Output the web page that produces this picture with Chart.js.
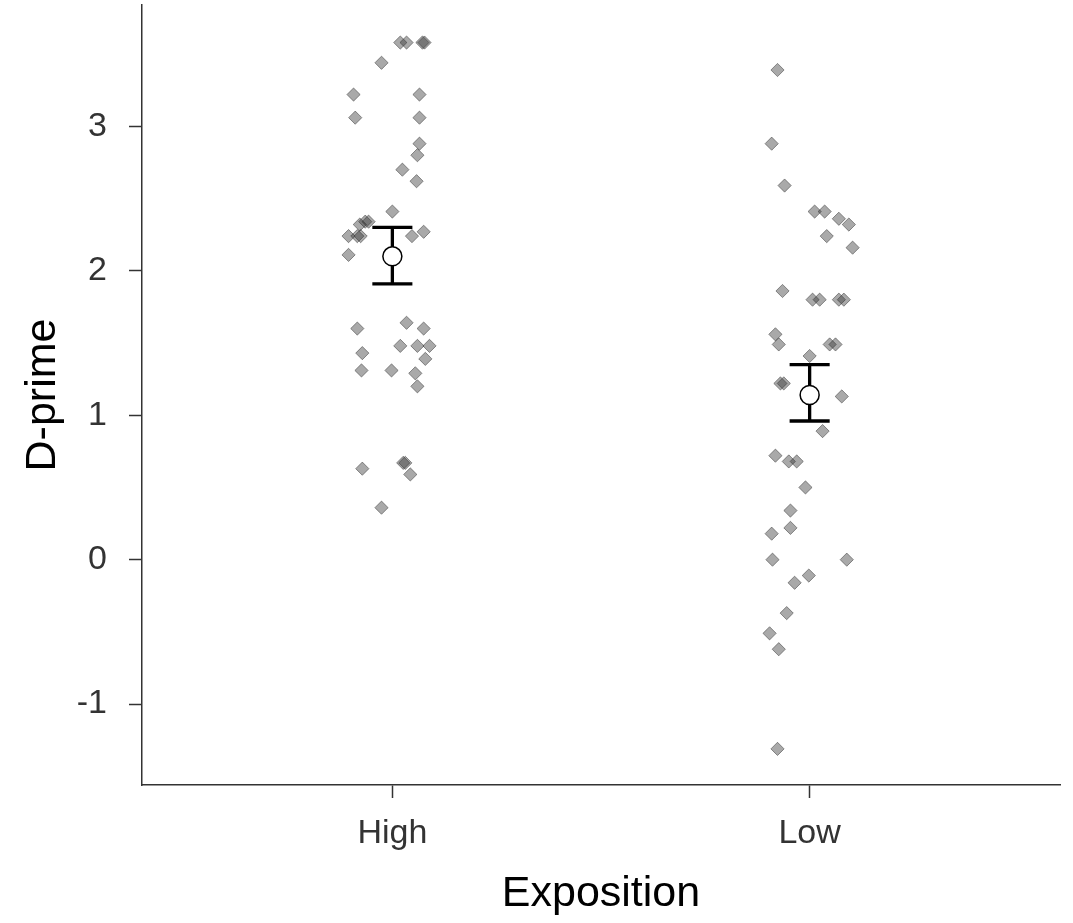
<!DOCTYPE html>
<html>
<head>
<meta charset="utf-8">
<title>D-prime by Exposition</title>
<script src="https://cdn.jsdelivr.net/npm/chart.js@4.4.1/dist/chart.umd.min.js"></script>
<style>
  html, body { margin: 0; padding: 0; background: #fff; }
  #wrap { width: 1073px; height: 923px; }
</style>
</head>
<body>
<div id="wrap"><canvas id="chart" width="1073" height="923"></canvas></div>
<script>
const categories = ['High', 'Low'];
const yTicks = [-1, 0, 1, 2, 3];

// jittered individual scores (x in category units, 1 = High, 2 = Low)
const highX = [1.019, 1.034, 1.072, 1.077, 0.974, 0.907, 1.065, 0.911, 1.065, 1.065,
               1.060, 1.024, 1.058, 1.000, 0.935, 0.943, 0.922, 0.895, 0.916, 0.924,
               0.895, 1.047, 1.075, 0.916, 1.034, 1.075, 1.019, 1.060, 1.089, 0.928,
               1.079, 0.926, 0.998, 1.055, 1.060, 0.928, 1.026, 1.031, 1.043, 0.974];
const highY = [3.58, 3.58, 3.58, 3.58, 3.44, 3.22, 3.22, 3.06, 3.06, 2.88,
               2.80, 2.70, 2.62, 2.41, 2.34, 2.34, 2.32, 2.24, 2.24, 2.24,
               2.11, 2.24, 2.27, 1.60, 1.64, 1.60, 1.48, 1.48, 1.48, 1.43,
               1.39, 1.31, 1.31, 1.29, 1.20, 0.63, 0.67, 0.67, 0.59, 0.36];

const lowX = [1.923, 1.909, 1.940, 2.012, 2.036, 2.070, 2.094, 2.041, 2.103, 1.935,
              2.007, 2.024, 2.070, 2.082, 1.918, 1.926, 2.048, 2.062, 2.000, 1.930,
              1.938, 2.077, 2.031, 1.918, 1.950, 1.969, 1.990, 1.954, 1.954, 1.909,
              1.911, 2.089, 1.998, 1.964, 1.945, 1.904, 1.926, 1.923];
const lowY = [3.39, 2.88, 2.59, 2.41, 2.41, 2.36, 2.32, 2.24, 2.16, 1.86,
              1.80, 1.80, 1.80, 1.80, 1.56, 1.49, 1.49, 1.49, 1.41, 1.22,
              1.22, 1.13, 0.89, 0.72, 0.68, 0.68, 0.50, 0.34, 0.22, 0.18,
              0.00, 0.00, -0.11, -0.16, -0.37, -0.51, -0.62, -1.31];

// group means with error bar limits
const means  = [2.10, 1.14];
const errLow = [1.91, 0.96];
const errHigh = [2.30, 1.35];

const CAP = 0.048; // half width of the error bar caps, in category units
const FONT = "'Liberation Sans', Arial, sans-serif";

function toPoints(xs, ys) {
  return xs.map((x, i) => ({ x, y: ys[i] }));
}

function errorBarPath(i) {
  const c = i + 1;
  return [
    { x: c - CAP, y: errHigh[i] }, { x: c + CAP, y: errHigh[i] }, { x: c, y: null },
    { x: c, y: errHigh[i] }, { x: c, y: errLow[i] }, { x: c, y: null },
    { x: c - CAP, y: errLow[i] }, { x: c + CAP, y: errLow[i] },
  ];
}

const dotStyle = {
  pointStyle: 'rectRot',
  pointRadius: 6.6,
  pointBackgroundColor: 'rgba(50,50,50,0.42)',
  pointBorderColor: 'rgba(50,50,50,0.5)',
  pointBorderWidth: 1,
  order: 2,
};

const errDatasets = categories.map((c, i) => ({
  type: 'line',
  data: errorBarPath(i),
  borderColor: '#000',
  borderWidth: 3.3,
  borderCapStyle: 'butt',
  pointRadius: 0,
  spanGaps: false,
  order: 1,
}));

new Chart(document.getElementById('chart').getContext('2d'), {
  type: 'scatter',
  data: {
    datasets: [
      {
        data: categories.map((c, i) => ({ x: i + 1, y: means[i] })),
        pointRadius: 9.5,
        pointBackgroundColor: '#fff',
        pointBorderColor: '#000',
        pointBorderWidth: 1.5,
        order: 0,
      },
      ...errDatasets,
      { data: toPoints(highX, highY), ...dotStyle },
      { data: toPoints(lowX, lowY), ...dotStyle },
    ],
  },
  options: {
    responsive: false,
    animation: false,
    devicePixelRatio: 1,
    layout: { autoPadding: false, padding: { top: 5, right: 13, left: 0, bottom: 0 } },
    plugins: { legend: { display: false }, tooltip: { enabled: false } },
    scales: {
      x: {
        type: 'linear',
        min: 0.4,
        max: 2.6,
        afterBuildTicks: (s) => { s.ticks = categories.map((c, i) => ({ value: i + 1 })); },
        afterFit: (s) => { s.height = 138; s.paddingLeft = 0; s.paddingRight = 0; },
        ticks: {
          callback: (v) => categories[v - 1],
          color: '#333',
          font: { family: FONT, size: 34 },
          padding: 15,
          maxRotation: 0,
        },
        grid: { drawOnChartArea: false, tickLength: 13, tickColor: '#333', tickWidth: 1.5 },
        border: { color: '#333', width: 1.5 },
        title: {
          display: true,
          text: 'Exposition',
          color: '#000',
          font: { family: FONT, size: 43 },
          padding: { top: 0, bottom: 3 },
        },
      },
      y: {
        min: -1.56,
        max: 3.84,
        afterBuildTicks: (s) => { s.ticks = yTicks.map((v) => ({ value: v })); },
        afterFit: (s) => { s.width = 142; s.paddingTop = 0; s.paddingBottom = 0; },
        ticks: {
          color: '#333',
          font: { family: FONT, size: 34 },
          padding: 22,
        },
        grid: { drawOnChartArea: false, tickLength: 13, tickColor: '#333', tickWidth: 1.5 },
        border: { color: '#333', width: 1.5 },
        title: {
          display: true,
          text: 'D-prime',
          color: '#000',
          font: { family: FONT, size: 43 },
          padding: { top: 17, bottom: 0 },
        },
      },
    },
  },
});
</script>
</body>
</html>
